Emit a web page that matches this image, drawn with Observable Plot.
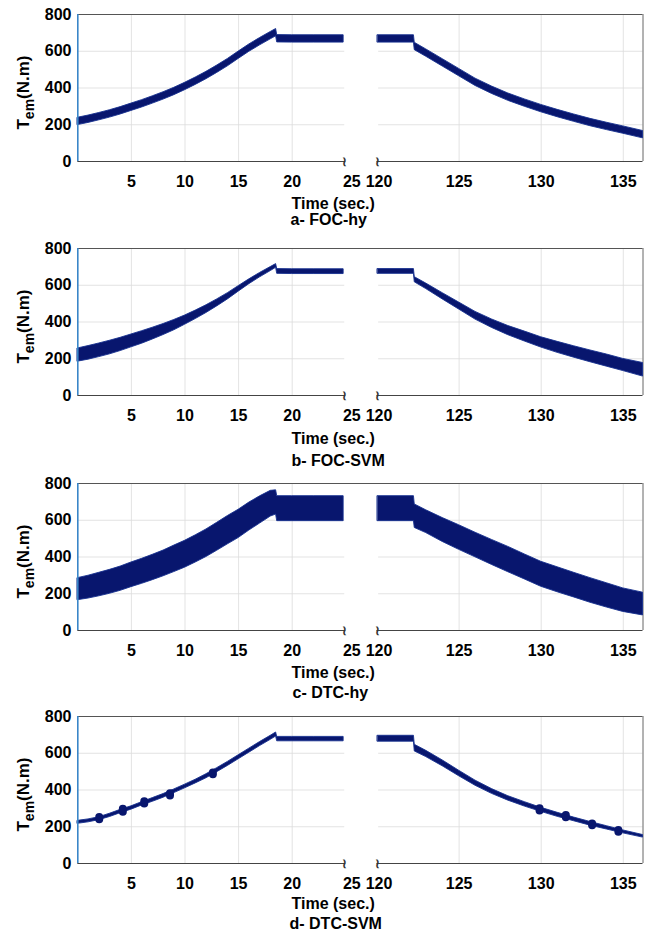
<!DOCTYPE html>
<html><head><meta charset="utf-8">
<script src="https://cdn.jsdelivr.net/npm/d3@7"></script>
<script src="https://cdn.jsdelivr.net/npm/@observablehq/plot@0.6"></script>
<style>
body{margin:0;background:#fff;}
#fig{position:relative;width:653px;height:938px;}
#fig > svg{position:absolute;left:0;}
</style></head><body><div id="fig"></div>
<script>
// ---- data ----
const tLeft  = [0,1,2,3,4,5,6,7,8,9,10,11,12,13,14,15,16,17,18,18.5,18.6,20,22,24.8];
const tRight = [120.05,122.25,122.3,123,124,125,126,127,128,129,130,131,132,133,134,135,136.2];

const panelNames = ["a- FOC-hy","b- FOC-SVM","c- DTC-hy","d- DTC-SVM"];

// centre of torque band (N.m) and half ripple width (N.m)
const aCenterL = [218,230,244,259,276,295,314,335,357,381,408,437,468,502,538,578,617,652,685,701,668,667,667,667];
const aRippleL = [20,20,20,20,20,20,20,20,20,20,20,20,20,20,20,20,20,20,20,20,20,20,20,20];
const aCenterR = [667,667,626,590,537,484,431,388,350,318,288,261,236,212,191,171,146];
const aRippleR = [20,20,20,20,20,20,20,20,20,20,20,20,20,20,20,20,20];

const bCenterL = [220,232,246,261,278,297,316,337,359,383,410,439,470,504,540,580,619,655,688,705,675,674,674,674];
const bRippleL = [36,37,37,37,36,35,34,32,30,28,25,23,21,19,17,15,13,12,11,10,13,13,13,13];
const bCenterR = [675,675,630,594,540,487,434,391,353,321,289,262,237,213,190,166,140];
const bRippleR = [13,13,14,15,17,19,21,23,25,27,28,30,31,32,33,33,37];

const cCenterL = [225,236,250,265,282,303,322,343,365,390,415,444,475,510,546,580,620,656,690,697,663,663,663,663];
const cRippleL = [60,62,64,65,66,67,68,69,70,72,73,74,75,76,77,77,76,74,70,66,68,68,68,68];
const cCenterR = [663,663,622,592,547,506,465,425,386,346,306,276,247,218,191,165,144];
const cRippleR = [68,68,64,62,65,67,67,68,69,68,68,68,67,67,66,64,62];

const dCenterL = [224,232,244,262,283,302,325,346,368,393,419,446,475,508,542,578,614,650,684,702,677,677,677,677];
const dRippleL = [8,8,8,9,9,9,9,10,10,10,10,10,11,11,11,11,11,11,11,11,12,12,12,12];
const dCenterR = [679,679,628,596,545,490,437,392,354,322,292,265,240,216,194,172,148];
const dRippleR = [16,16,18,17,16,15,14,13,12,12,11,11,10,10,9,8,7];
// local ripple bursts visible on DTC-SVM
const dBlobT = [2.0,4.2,6.2,8.6,12.6,129.9,131.5,133.1,134.7];
const dBlobY = [244,287,330,374,488,292,255,210,175];
const dBlobH = [6,8,6,6,5,6,6,5,5];

const xTickVals = [5,10,15,20,125,130,135];
const xTickBreakL = [25];
const xTickBreakR = [120];
const xGridVals = [5,10,15,20,125,130,135];
const yTickVals = [0,200,400,600,800];
const yGridVals = [200,400,600];
const segLeft = [0,25];
const segRight = [120,136.2];

// ---- layout ----
const NAVY = "#08166e";
const panelTop = [0,234,469,702];
const timeDy = [42,43.5,42,40];
const capDy = [58,65,62,60];
const capX = [290,291,292,289];

const series = [
  [aCenterL,aRippleL,aCenterR,aRippleR],
  [bCenterL,bRippleL,bCenterR,bRippleR],
  [cCenterL,cRippleL,cCenterR,cRippleR],
  [dCenterL,dRippleL,dCenterR,dRippleR]
];

const fig = document.getElementById("fig");

series.forEach(([cL,hL,cR,hR],p) => {
  const rows = [
    ...tLeft.map((t,i)=>({t, seg:"L", lo:cL[i]-hL[i], hi:cL[i]+hL[i]})),
    ...tRight.map((t,i)=>({t, seg:"R", lo:cR[i]-hR[i], hi:cR[i]+hR[i]}))
  ];
  const gridRows = yGridVals.flatMap(v => [[segLeft[0],segLeft[1]-0.1],[segRight[0]+0.1,segRight[1]]].map(s=>({y:v,x1:s[0],x2:s[1]})));
  const blobs = p===3 ? dBlobT.map((t,i)=>({t, y:dBlobY[i], h:dBlobH[i]})) : [];
  const svg = Plot.plot({
    width: 653, height: 234,
    marginTop: 14, marginBottom: 73, marginLeft: 77, marginRight: 10,
    x: {type:"linear", domain:[segLeft[0],segLeft[1],segRight[0],segRight[1]], range:[77.3,345.3,376.5,642.5]},
    y: {domain:[0,800]},
    style: {fontFamily:"'Liberation Sans', Arial, sans-serif", fontSize:"16px", fontWeight:"bold", color:"#000", background:"transparent", overflow:"visible"},
    marks: [
      Plot.ruleY(gridRows, {y:"y", x1:"x1", x2:"x2", stroke:"#dcdcdc", strokeWidth:0.8}),
      Plot.ruleX(xGridVals, {y1:0, y2:800, stroke:"#dcdcdc", strokeWidth:0.8}),
      Plot.ruleY([800], {x1:segLeft[0], x2:segRight[1], stroke:"#555", strokeWidth:1}),
      Plot.ruleX([segRight[1]], {y1:0, y2:800, stroke:"#666", strokeWidth:1}),
      Plot.ruleY([segLeft,segRight], {y:0, x1:d=>d[0], x2:d=>d[1], stroke:"#444", strokeWidth:1}),
      Plot.areaY(rows, {x:"t", y1:"lo", y2:"hi", z:"seg", fill:NAVY, stroke:"#16308f", strokeWidth:0.9, curve:"linear"}),
      Plot.ruleX(blobs, {x:"t", y1:d=>d.y-d.h, y2:d=>d.y+d.h, stroke:NAVY, strokeWidth:8, strokeLinecap:"round"}),
      Plot.ruleX([segLeft[0]], {y1:0, y2:800, stroke:"#3a86c8", strokeWidth:1.6}),
      Plot.text([segLeft[1]], {x:d=>d, y:0, dx:-1, text:()=>"≀", fontSize:13, fill:"#333"}),
      Plot.text([segRight[0]], {x:d=>d, y:0, text:()=>"≀", fontSize:13, fill:"#333"}),
      Plot.axisY({ticks:yTickVals, tickSize:0, tickPadding:6, label:null}),
      Plot.axisX({ticks:xTickVals, tickSize:0, tickPadding:14, label:null}),
      Plot.axisX({ticks:xTickBreakL, tickSize:0, tickPadding:14, dx:6, label:null}),
      Plot.axisX({ticks:xTickBreakR, tickSize:0, tickPadding:14, dx:2, label:null}),
      Plot.text(["Time (sec.)"], {frameAnchor:"bottom-left", lineAnchor:"middle", dx:291-77, dy:timeDy[p], textAnchor:"start", text:d=>d}),
      Plot.text([panelNames[p]], {frameAnchor:"bottom-left", lineAnchor:"middle", dx:capX[p]-77, dy:capDy[p], textAnchor:"start", text:d=>d})
    ]
  });
  svg.style.top = panelTop[p] + "px";
  const lab = d3.select(svg).append("text")
    .attr("transform", `translate(29,${14+73.5+5}) rotate(-90)`)
    .attr("text-anchor","middle")
    .style("font-size","17px").style("font-weight","bold");
  lab.append("tspan").text("T");
  lab.append("tspan").attr("dy",5).style("font-size","14px").text("em");
  lab.append("tspan").attr("dy",-5).text("(N.m)");
  fig.appendChild(svg);
});
</script>
</body></html>
